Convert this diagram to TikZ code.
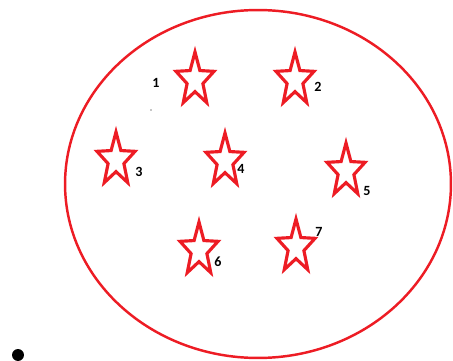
\documentclass[tikz,border=0pt]{standalone}
\usepackage{fontspec}
\setsansfont{Carlito}
\usepackage{tikz}
\usetikzlibrary{shapes.geometric,positioning}

\definecolor{paintred}{RGB}{237,28,36}

\begin{document}
\begin{tikzpicture}[
    x=0.02cm, y=-0.02cm,
    ring/.style={draw=paintred, line width=1.4pt, ellipse, minimum width=7.72cm, minimum height=6.96cm},
    starbox/.style={star, star points=5, star point ratio=2.4, draw=paintred, line width=1.8pt,
        minimum size=0.8cm, inner sep=0pt, yscale=1.4, transform shape},
    num/.style={font=\sffamily\bfseries\fontsize{8}{8}\selectfont, inner sep=0pt}
]
\useasboundingbox (0,0) rectangle (453,361);

\node[ring] (ring) at (258,184) {};

\node[starbox] (s1) at (195,80) {};
\node[starbox] (s2) at (295,80) {};
\node[starbox] (s3) at (116,160) {};
\node[starbox] (s4) at (225,161) {};
\node[starbox] (s5) at (346,171) {};
\node[starbox] (s6) at (199,250) {};
\node[starbox] (s7) at (296,247) {};

\node[num] (n1) at (156,83) {1};
\node[num] (n2) at (318,87) {2};
\node[num] (n3) at (139,172) {3};
\node[num] (n4) at (241,169) {4};
\node[num] (n5) at (367,191) {5};
\node[num] (n6) at (218,262) {6};
\node[num] (n7) at (319,232) {7};

% small speck and the dot below the ring
\node[circle, fill=black!45, inner sep=0pt, minimum size=1pt] (speck) at (151,110) {};
\node[circle, fill=black, inner sep=0pt, minimum size=0.24cm] (dot) at (18,355) {};
\end{tikzpicture}
\end{document}
